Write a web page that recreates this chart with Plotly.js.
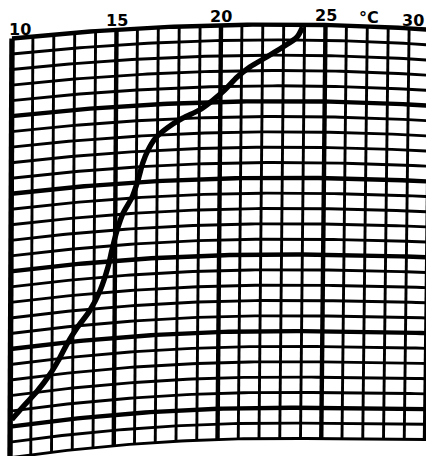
<!DOCTYPE html>
<html>
<head>
<meta charset="utf-8">
<script src="https://cdn.plot.ly/plotly-3.0.1.min.js"></script>
<style>html,body{margin:0;padding:0;background:#fff;}#chart{width:426px;height:456px;}</style>
</head>
<body>
<div id="chart"></div>
<script>
// ---- data (temperature in °C, depth in grid divisions) ----
const tempTicks = [10, 15, 20, 25, 30];
const tickLabels = ['10', '15', '20', '25', '30'];
const unitLabel = '°C';
const unitTemp = 27.1;
const traceTemp = [23.9, 23.64, 22.97, 22.2, 21.4, 20.8, 20.2, 19.65, 19.0, 18.2, 17.45, 16.9, 16.55, 16.3, 16.08, 15.8, 15.37, 15.09, 14.85, 14.66, 14.29, 13.8, 13.2, 12.72, 12.29, 11.91, 11.29, 10.71, 10.08];
const traceDepth = [0.16, 0.82, 1.47, 2.12, 2.76, 3.4, 4.23, 4.87, 5.49, 5.98, 6.58, 7.2, 7.95, 8.78, 9.87, 10.95, 11.96, 13.03, 14.3, 15.4, 16.86, 18.1, 19.13, 20.1, 21.15, 21.94, 22.95, 23.7, 24.55];
const tMin = 10, tMax = 30, dMax = 27;

// ---- curved bathythermograph grid warp ----
function X(T, d) {
  const xt = 12 + 20.9 * (T - 10);
  const xb = 10 + 20.75 * (T - 10);
  return xt + (xb - xt) * d / dMax;
}
function Y(x, d) {
  const base = 24.5 + 15.33 * d;
  const dx = x - 280;
  const k = dx < 0 ? (14 + 5 * d / dMax) / (268 * 268) : (5 - 4 * d / dMax) / (146 * 146);
  return base + k * dx * dx;
}
function P(T, d) { const x = X(T, d); return [x, Y(x, d)]; }

function gridTrace(width, pred) {
  const xs = [], ys = [];
  for (let T = tMin; T <= tMax; T++) {
    if (!pred(T, 'v')) continue;
    for (let d = 0; d <= dMax + 0.2; d += 0.5) { const p = P(T, Math.min(d, dMax + 0.2)); xs.push(p[0]); ys.push(p[1]); }
    xs.push(null); ys.push(null);
  }
  for (let d = 0; d <= dMax; d++) {
    if (!pred(d, 'h')) continue;
    for (let T = tMin; T <= tMax + 0.6; T += 0.25) { const p = P(T, d); xs.push(p[0]); ys.push(p[1]); }
    xs.push(null); ys.push(null);
  }
  return {x: xs, y: ys, mode: 'lines', line: {color: '#000', width: width}, hoverinfo: 'skip', showlegend: false};
}

const traces = [
  gridTrace(2.9, (v, t) => v % 5 !== 0),
  gridTrace(4.4, (v, t) => v % 5 === 0 && !(t === 'v' && v === 10)),
  gridTrace(5.4, (v, t) => t === 'v' && v === 10),
];

const cx = [], cy = [];
for (let i = 0; i < traceTemp.length; i++) { const p = P(traceTemp[i], traceDepth[i]); cx.push(p[0]); cy.push(p[1]); }
traces.push({x: cx, y: cy, mode: 'lines', line: {color: '#000', width: 5.4, shape: 'spline', smoothing: 0.8}, hoverinfo: 'skip', showlegend: false});

const font = {family: 'DejaVu Sans', size: 16, color: '#000', weight: 'bold'};
const annotations = tempTicks.map((T, i) => {
  const x = X(T, 0);
  const a = {x: x, y: Y(x, 0) - 9, text: tickLabels[i], showarrow: false, font: font, xanchor: 'center', yanchor: 'middle'};
  if (T === 10) { a.xanchor = 'left'; a.x = x - 5; }
  if (T === 30) { a.xanchor = 'right'; a.x = 426; }
  return a;
});
const ux = X(unitTemp, 0);
annotations.push({x: ux, y: Y(ux, 0) - 9, text: unitLabel, showarrow: false, font: font, xanchor: 'center', yanchor: 'middle'});

const layout = {
  width: 426, height: 456,
  margin: {l: 0, r: 0, t: 0, b: 0},
  paper_bgcolor: '#fff', plot_bgcolor: '#fff',
  xaxis: {range: [0, 426], visible: false, fixedrange: true},
  yaxis: {range: [456, 0], visible: false, fixedrange: true},
  annotations: annotations,
  showlegend: false
};
Plotly.newPlot('chart', traces, layout, {staticPlot: true, displayModeBar: false});
</script>
</body>
</html>
